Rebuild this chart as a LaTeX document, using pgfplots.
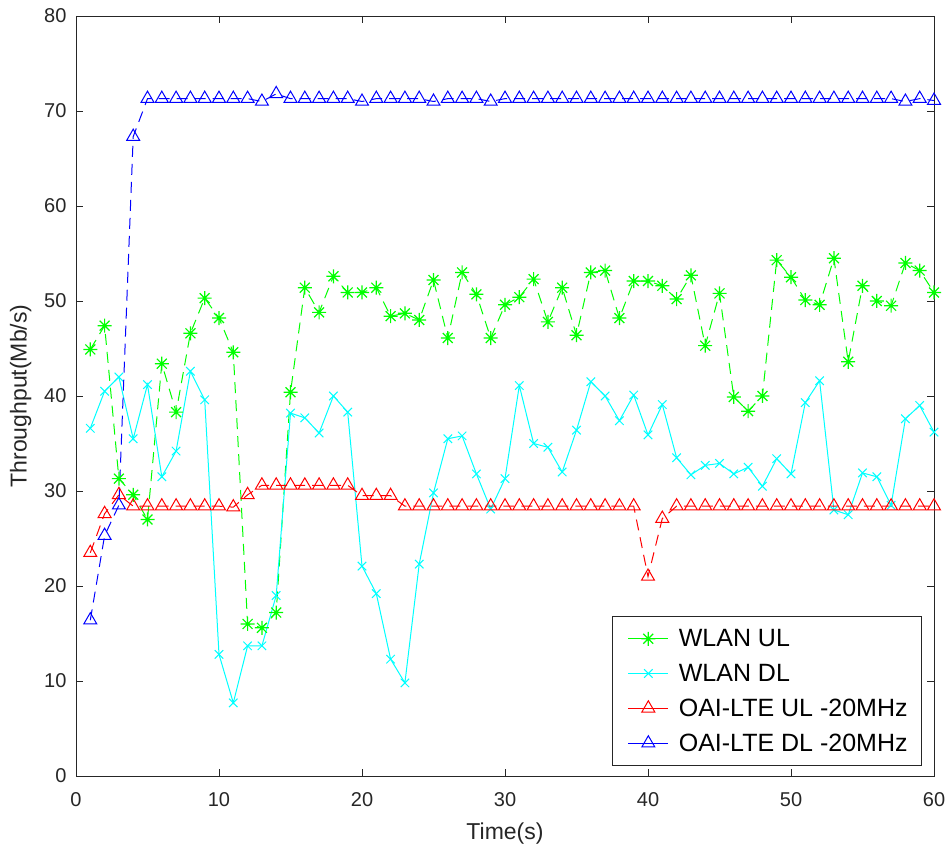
\documentclass[border=0pt]{standalone}
\usepackage{pgfplots}
\pgfplotsset{compat=1.18}
\usepackage{fontspec}
\setmainfont{Liberation Sans}
\definecolor{axgray}{gray}{0.15}
\definecolor{mgreen}{rgb}{0,1,0}
\definecolor{mcyan}{rgb}{0,1,1}
\pgfdeclareplotmark{matstar}{%
  \pgfpathmoveto{\pgfqpoint{0pt}{\pgfplotmarksize}}\pgfpathlineto{\pgfqpoint{0pt}{-\pgfplotmarksize}}%
  \pgfpathmoveto{\pgfqpoint{\pgfplotmarksize}{0pt}}\pgfpathlineto{\pgfqpoint{-\pgfplotmarksize}{0pt}}%
  \pgfpathmoveto{\pgfqpoint{0.7071\pgfplotmarksize}{0.7071\pgfplotmarksize}}\pgfpathlineto{\pgfqpoint{-0.7071\pgfplotmarksize}{-0.7071\pgfplotmarksize}}%
  \pgfpathmoveto{\pgfqpoint{-0.7071\pgfplotmarksize}{0.7071\pgfplotmarksize}}\pgfpathlineto{\pgfqpoint{0.7071\pgfplotmarksize}{-0.7071\pgfplotmarksize}}%
  \pgfusepathqstroke}
\begin{document}
\begin{tikzpicture}
\begin{axis}[
  name=ax,
  scale only axis,
  width=858pt, height=760pt,
  xmin=0, xmax=60, ymin=0, ymax=80,
  xtick={0,10,...,60}, ytick={0,10,...,80},
  tick align=inside,
  major tick length=7pt,
  axis line style={axgray, line width=0.8pt},
  tick style={axgray, line width=0.8pt},
  /pgf/number format/assume math mode=true,
  ticklabel style={font=\fontsize{20}{24}\selectfont, text=axgray},
  xticklabel style={yshift=-13pt},
  yticklabel style={xshift=-6pt},
  xlabel={Time(s)}, ylabel={Throughput(Mb/s)},
  label style={font=\fontsize{23}{27}\selectfont, text=axgray},
  xlabel style={yshift=-9pt},
  ylabel style={yshift=6pt},
  legend style={at={(0.986,0.013)}, anchor=south east, draw=axgray, line width=0.8pt,
    font=\fontsize{25}{30}\selectfont, row sep=12pt, inner xsep=12pt, inner ysep=11pt,
    cells={anchor=west}},
  legend image code/.code={\path (0pt,0pt) (51pt,0pt);\draw[mark repeat=2,mark phase=2,#1,solid] plot coordinates {(3pt,0pt) (23pt,0pt) (43pt,0pt)};},
]
\addplot[color=mgreen, line width=1pt, dash pattern=on 11pt off 7pt,
  mark=matstar, mark size=7pt, mark options={solid, line width=1.2pt}] coordinates {
(1,44.9)(2,47.4)(3,31.3)(4,29.6)(5,27.0)(6,43.4)(7,38.3)(8,46.6)(9,50.3)(10,48.2)
(11,44.6)(12,16.0)(13,15.6)(14,17.2)(15,40.4)(16,51.4)(17,48.8)(18,52.6)(19,50.9)(20,50.9)
(21,51.4)(22,48.4)(23,48.7)(24,48.0)(25,52.2)(26,46.1)(27,53.0)(28,50.7)(29,46.1)(30,49.6)
(31,50.4)(32,52.3)(33,47.8)(34,51.4)(35,46.4)(36,53.0)(37,53.2)(38,48.2)(39,52.1)(40,52.1)
(41,51.6)(42,50.2)(43,52.7)(44,45.3)(45,50.8)(46,39.9)(47,38.4)(48,40.0)(49,54.3)(50,52.5)
(51,50.1)(52,49.6)(53,54.5)(54,43.6)(55,51.6)(56,50.0)(57,49.5)(58,54.0)(59,53.2)(60,50.9)
};
\addlegendentry{WLAN UL}
\addplot[color=mcyan, line width=1pt, solid,
  mark=x, mark size=6pt, mark options={solid, line width=1pt}] coordinates {
(1,36.6)(2,40.5)(3,42.0)(4,35.5)(5,41.2)(6,31.5)(7,34.2)(8,42.6)(9,39.6)(10,12.8)
(11,7.7)(12,13.7)(13,13.7)(14,19.0)(15,38.2)(16,37.7)(17,36.1)(18,40.0)(19,38.3)(20,22.1)
(21,19.2)(22,12.3)(23,9.8)(24,22.3)(25,29.8)(26,35.5)(27,35.8)(28,31.8)(29,28.1)(30,31.3)
(31,41.1)(32,35.0)(33,34.6)(34,32.0)(35,36.4)(36,41.5)(37,40.0)(38,37.4)(39,40.1)(40,35.9)
(41,39.1)(42,33.5)(43,31.7)(44,32.7)(45,32.9)(46,31.8)(47,32.5)(48,30.5)(49,33.4)(50,31.8)
(51,39.3)(52,41.6)(53,28.0)(54,27.5)(55,31.9)(56,31.5)(57,28.5)(58,37.6)(59,39.0)(60,36.2)
};
\addlegendentry{WLAN DL}
\addplot[color=red, line width=1pt, dash pattern=on 11pt off 7pt,
  mark=triangle, mark size=7.5pt, mark options={solid, line width=1pt}] coordinates {
(1,23.5)(2,27.6)(3,29.6)(4,28.4)(5,28.4)(6,28.4)(7,28.4)(8,28.4)(9,28.4)(10,28.4)
(11,28.3)(12,29.6)(13,30.6)(14,30.6)(15,30.6)(16,30.6)(17,30.6)(18,30.6)(19,30.6)(20,29.5)
(21,29.5)(22,29.5)(23,28.4)(24,28.4)(25,28.4)(26,28.4)(27,28.4)(28,28.4)(29,28.4)(30,28.4)
(31,28.4)(32,28.4)(33,28.4)(34,28.4)(35,28.4)(36,28.4)(37,28.4)(38,28.4)(39,28.4)(40,21.0)
(41,27.1)(42,28.4)(43,28.4)(44,28.4)(45,28.4)(46,28.4)(47,28.4)(48,28.4)(49,28.4)(50,28.4)
(51,28.4)(52,28.4)(53,28.4)(54,28.4)(55,28.4)(56,28.4)(57,28.4)(58,28.4)(59,28.4)(60,28.4)
};
\addlegendentry{OAI-LTE UL -20MHz}
\addplot[color=blue, line width=1pt, dash pattern=on 11pt off 7pt,
  mark=triangle, mark size=7.5pt, mark options={solid, line width=1pt}] coordinates {
(1,16.4)(2,25.3)(3,28.5)(4,67.3)(5,71.3)(6,71.3)(7,71.3)(8,71.3)(9,71.3)(10,71.3)
(11,71.3)(12,71.3)(13,71.0)(14,71.8)(15,71.3)(16,71.3)(17,71.3)(18,71.3)(19,71.3)(20,71.0)
(21,71.3)(22,71.3)(23,71.3)(24,71.3)(25,71.0)(26,71.3)(27,71.3)(28,71.3)(29,71.0)(30,71.3)
(31,71.3)(32,71.3)(33,71.3)(34,71.3)(35,71.3)(36,71.3)(37,71.3)(38,71.3)(39,71.3)(40,71.3)
(41,71.3)(42,71.3)(43,71.3)(44,71.3)(45,71.3)(46,71.3)(47,71.3)(48,71.3)(49,71.3)(50,71.3)
(51,71.3)(52,71.3)(53,71.3)(54,71.3)(55,71.3)(56,71.3)(57,71.3)(58,71.0)(59,71.3)(60,71.1)
};
\addlegendentry{OAI-LTE DL -20MHz}
\end{axis}
\path (ax.south west) ++(-76pt,-74pt);
\path (ax.north east) ++(15pt,16pt);
\end{tikzpicture}
\end{document}
